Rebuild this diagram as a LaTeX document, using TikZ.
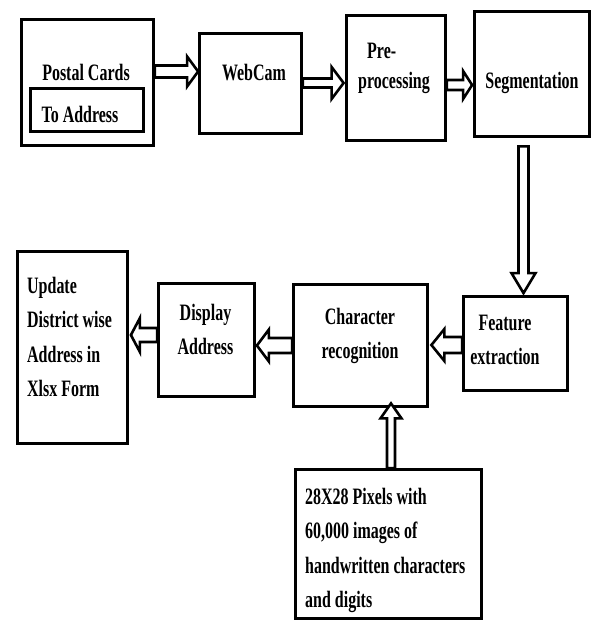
\documentclass[tikz,border=0pt]{standalone}
\usepackage{fontspec}
\setmainfont{Liberation Serif}[FakeStretch=0.68]
\usetikzlibrary{calc}
\newcommand\lblfont{\fontsize{23.5}{34.5}\selectfont\bfseries}
\newcommand\lblfonttight{\fontsize{23.5}{30}\selectfont\bfseries}
\tikzset{
  box/.style={draw, line width=2.8pt, rectangle, inner sep=0pt},
  lbl/.style={font=\lblfont, inner sep=0pt},
  bsw/.store in=\bsw, bhw/.store in=\bhw, bhl/.store in=\bhl,
  bsw=5pt, bhw=15pt, bhl=11pt,
  blockarrow/.style={draw, line width=2.6pt, line join=miter, fill=white,
    to path={
      ($(\tikztostart)!\bsw!90:(\tikztotarget)$)
      -- ($(\tikztotarget)!\bhl!(\tikztostart)!\bsw!90:(\tikztotarget)$)
      -- ($(\tikztotarget)!\bhl!(\tikztostart)!\bhw!90:(\tikztotarget)$)
      -- (\tikztotarget)
      -- ($(\tikztotarget)!\bhl!(\tikztostart)!\bhw!-90:(\tikztotarget)$)
      -- ($(\tikztotarget)!\bhl!(\tikztostart)!\bsw!-90:(\tikztotarget)$)
      -- ($(\tikztostart)!\bsw!-90:(\tikztotarget)$)
      -- cycle}}
}
\begin{document}
\begin{tikzpicture}[x=1pt, y=-1pt]
\useasboundingbox (0,0) rectangle (594,622);
% boxes
\node[box, minimum width=132pt, minimum height=126pt] (pc) at (87.5,82.5) {};
\node[box, minimum width=113pt, minimum height=43pt] (ta) at (87,110) {};
\node[box, minimum width=102pt, minimum height=100pt] (wc) at (250.5,83.5) {};
\node[box, minimum width=99pt, minimum height=125pt] (pre) at (396,78) {};
\node[box, minimum width=115pt, minimum height=125pt] (seg) at (532,74) {};
\node[box, minimum width=104pt, minimum height=94pt] (fe) at (515.5,343.5) {};
\node[box, minimum width=134pt, minimum height=122pt] (cr) at (360.5,345.5) {};
\node[box, minimum width=96pt, minimum height=113pt] (da) at (206.5,340) {};
\node[box, minimum width=110pt, minimum height=192pt] (up) at (72.5,347.5) {};
\node[box, minimum width=186pt, minimum height=149pt] (db) at (388.5,544) {};
% labels (base anchor of a multi-line node = baseline of its last line)
\node[lbl, anchor=base] (pct) at (86,80) {Postal Cards};
\node[lbl, anchor=base] (tat) at (80,122) {To Address};
\node[lbl, anchor=base] (wct) at (254,80) {WebCam};
\node[lbl, anchor=base west, align=left, font=\lblfonttight] (pret) at (358,88) {\hspace*{9pt}Pre-\\processing};
\node[lbl, anchor=base] (segt) at (532,88) {Segmentation};
\node[lbl, anchor=base, align=center] (fet) at (505,364.5) {Feature\\extraction};
\node[lbl, anchor=base, align=center] (crt) at (360,358.5) {Character\\recognition};
\node[lbl, anchor=base, align=center] (dat) at (205.5,354.5) {Display\\Address};
\node[lbl, anchor=base west, align=left] (upt) at (27,396.5) {Update\\District wise\\Address in\\Xlsx Form};
\node[lbl, anchor=base west, align=left] (dbt) at (305,607.5) {28X28 Pixels with\\60,000 images of\\handwritten characters\\and digits};
% connectors
\draw[blockarrow, bsw=6pt, bhw=15pt, bhl=11pt] ($(pc.east)+(0,-11)$) to ($(wc.west)+(0,-12)$);
\draw[blockarrow, bsw=4.5pt, bhw=16pt, bhl=12pt] ($(wc.east)+(0,-0.5)$) to ($(pre.west)+(-1.5,5)$);
\draw[blockarrow, bsw=5pt, bhw=14pt, bhl=9pt] ($(pre.east)+(0,7)$) to ($(seg.west)+(-1,11)$);
\draw[blockarrow, bsw=5pt, bhw=12pt, bhl=20pt] ($(seg.south)+(-8.5,8.5)$) to ($(fe.north)+(8,-2)$);
\draw[blockarrow, bsw=8pt, bhw=16pt, bhl=13pt] ($(fe.west)+(0,1.5)$) to ($(cr.east)+(2.5,-0.5)$);
\draw[blockarrow, bsw=7.5pt, bhw=16pt, bhl=12pt] ($(cr.west)+(0,0)$) to ($(da.east)+(1,5.5)$);
\draw[blockarrow, bsw=7pt, bhw=17pt, bhl=9pt] ($(da.west)+(0,-5)$) to ($(up.east)+(2,-12.5)$);
\draw[blockarrow, bsw=4pt, bhw=10.5pt, bhl=15pt] ($(db.north)+(2.5,0)$) to ($(cr.south)+(30.5,-4.5)$);
\end{tikzpicture}
\end{document}
